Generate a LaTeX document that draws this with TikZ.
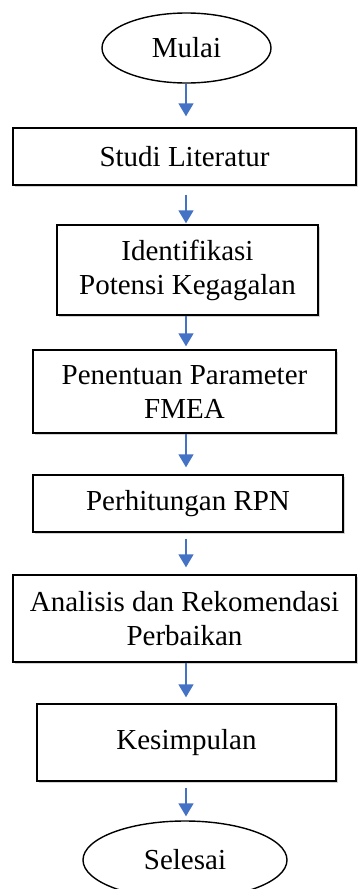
\documentclass[tikz,border=0pt]{standalone}
\usepackage{fontspec}
\setmainfont{Liberation Serif}
\usetikzlibrary{shapes.geometric,arrows.meta,shadows}
\begin{document}
\begin{tikzpicture}[x=1pt,y=1pt,
  every node/.style={font=\fontsize{29}{34}\selectfont, align=center, inner sep=0pt},
  procbox/.style={draw=black, line width=1.4pt, fill=white, rectangle,
    drop shadow={shadow xshift=1.5pt, shadow yshift=-2pt, opacity=0.35}},
  termnode/.style={draw=black, line width=1.4pt, fill=white, ellipse},
  flowarrow/.style={draw={rgb,255:red,68;green,114;blue,196}, line width=1.6pt,
    -{Triangle[width=15pt,length=13pt]}}
]
\useasboundingbox (0,0) rectangle (357,-889);
\coordinate (axis) at (186,0);
\node[termnode, minimum width=169pt, minimum height=70pt] (mulai) at (186.5,-48) {Mulai};
\node[procbox, minimum width=343pt, minimum height=57pt] (studi) at (184.5,-156.5) {Studi Literatur};
\node[procbox, minimum width=261pt, minimum height=90pt] (ident) at (187.5,-270) {Identifikasi\\Potensi Kegagalan};
\node[procbox, minimum width=303pt, minimum height=83pt] (penen) at (184.5,-391.5) {Penentuan Parameter\\FMEA};
\node[procbox, minimum width=310pt, minimum height=57pt] (perhit) at (188,-503.5) {Perhitungan RPN};
\node[procbox, minimum width=343pt, minimum height=87pt] (anal) at (184.5,-618.5) {Analisis dan Rekomendasi\\Perbaikan};
\node[procbox, minimum width=299pt, minimum height=77pt] (kesim) at (186.5,-742.5) {Kesimpulan};
\node[termnode, minimum width=204pt, minimum height=78pt] (seles) at (185,-860) {Selesai};

\draw[flowarrow, shorten >=11pt] (mulai.south -| axis) -- (studi.north -| axis);
\draw[flowarrow, shorten <=9pt, shorten >=1pt] (studi.south -| axis) -- (ident.north -| axis);
\draw[flowarrow, shorten >=3pt] (ident.south -| axis) -- (penen.north -| axis);
\draw[flowarrow, shorten >=7pt] (penen.south -| axis) -- (perhit.north -| axis);
\draw[flowarrow, shorten <=6pt, shorten >=7pt] (perhit.south -| axis) -- (anal.north -| axis);
\draw[flowarrow, shorten >=6pt] (anal.south -| axis) -- (kesim.north -| axis);
\draw[flowarrow, shorten <=6pt, shorten >=4pt] (kesim.south -| axis) -- (seles.north -| axis);
\end{tikzpicture}
\end{document}
